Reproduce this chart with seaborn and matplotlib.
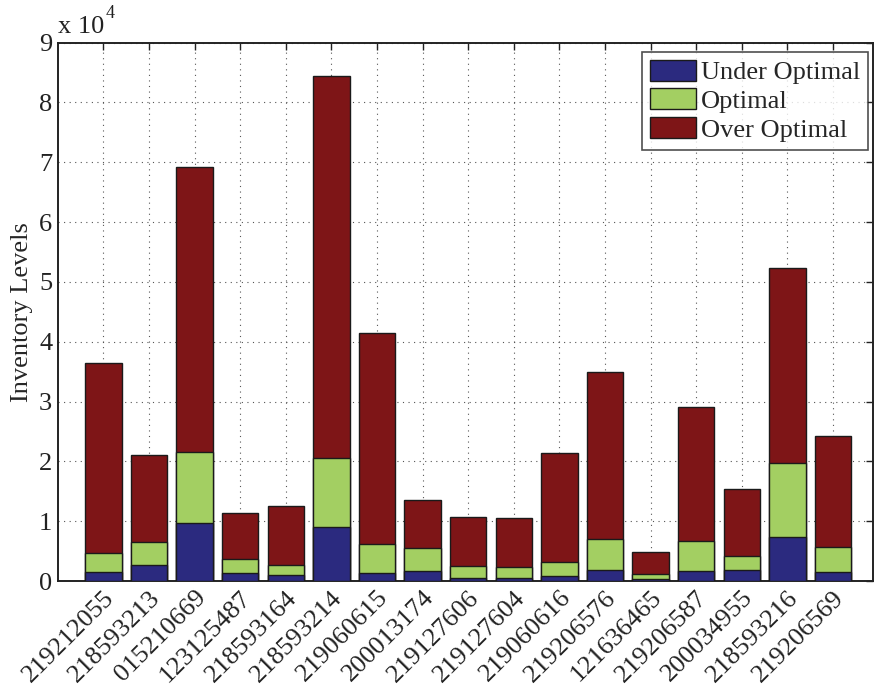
import matplotlib
matplotlib.use("Agg")
import matplotlib.pyplot as plt
from matplotlib.patches import Patch
import seaborn as sns
import pandas as pd
import numpy as np

items = ["219212055", "218593213", "015210669", "123125487", "218593164",
         "218593214", "219060615", "200013174", "219127606", "219127604",
         "219060616", "219206576", "121636465", "219206587", "200034955",
         "218593216", "219206569"]
under_optimal = [1450, 2620, 9750, 1390, 1000, 9020, 1280, 1670, 560, 500,
                 780, 1840, 280, 1620, 1780, 7300, 1450]
optimal = [3280, 3840, 11750, 2230, 1620, 11480, 4850, 3790, 1890, 1780,
           2390, 5230, 950, 5060, 2340, 12420, 4230]
over_optimal = [31640, 14590, 47720, 7690, 9970, 63990, 35360, 8070, 8190, 8250,
                18220, 27900, 3560, 22340, 11200, 32690, 18550]
series_names = ["Under Optimal", "Optimal", "Over Optimal"]
colors = ["#2B2A7F", "#A3CF62", "#7E1517"]
yticks = [0, 1, 2, 3, 4, 5, 6, 7, 8, 9]

sns.set_style("white")
plt.rcParams["font.family"] = ["Liberation Serif", "DejaVu Serif"]
FS = 19

df = pd.DataFrame({"item": items, "under": under_optimal,
                   "opt": optimal, "over": over_optimal})
df["c1"] = df["under"]
df["c2"] = df["under"] + df["opt"]
df["c3"] = df["c2"] + df["over"]

fig = plt.figure(figsize=(8.75, 6.88), dpi=100)
ax = fig.add_axes([0.066, 0.1555, 0.9318, 0.7825])

for col, c in zip(["c3", "c2", "c1"], colors[::-1]):
    sns.barplot(data=df, x="item", y=col, order=items, color=c, saturation=1,
                edgecolor="#1a1a1a", linewidth=1.0, width=0.8, ax=ax, zorder=3)

ax.set_xlim(-1.0, 16.88)
ax.set_ylim(0, 90000)
ax.set_yticks([v * 10000 for v in yticks])
ax.set_yticklabels([str(v) for v in yticks], fontsize=FS)
ax.set_xticks(range(len(items)))
ax.set_xticklabels(items, rotation=45, ha="right", rotation_mode="anchor",
                   fontsize=FS)
ax.set_xlabel("")
ax.set_ylabel("Inventory Levels", fontsize=FS, labelpad=4)

ax.tick_params(direction="in", length=5, width=1.0, top=True, right=True,
               colors="#222222", labelcolor="#222222", pad=4)
for s in ax.spines.values():
    s.set_linewidth(1.4)
    s.set_color("#222222")
    s.set_visible(True)

ax.set_axisbelow(True)
ax.grid(True, which="major", linestyle=(0, (1, 4)), color="#555555",
        linewidth=0.8, zorder=0)

ax.text(0.0, 1.008, "x 10", transform=ax.transAxes, fontsize=FS,
        ha="left", va="bottom", color="#222222")
ax.text(0.059, 1.038, "4", transform=ax.transAxes, fontsize=13,
        ha="left", va="bottom", color="#222222")

handles = [Patch(facecolor=c, edgecolor="#1a1a1a", linewidth=1.0) for c in colors]
leg = ax.legend(handles, series_names, loc="upper right",
                bbox_to_anchor=(0.994, 0.983), borderaxespad=0, fontsize=FS,
                frameon=True, fancybox=False, shadow=False,
                handlelength=1.75, handleheight=0.85, handletextpad=0.2,
                labelspacing=0.15, borderpad=0.3)
leg.get_frame().set_edgecolor("#222222")
leg.get_frame().set_linewidth(1.2)
leg.set_zorder(5)

fig.savefig("out.png", dpi=100)
